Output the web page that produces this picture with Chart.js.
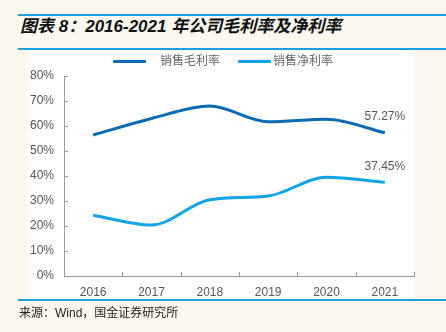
<!DOCTYPE html>
<html>
<head>
<meta charset="utf-8">
<script src="https://cdn.jsdelivr.net/npm/chart.js@4.4.0/dist/chart.umd.min.js"></script>
<style>
  html, body { margin: 0; padding: 0; }
  body { width: 446px; height: 332px; background: #fcf8ee; position: relative; overflow: hidden;
         font-family: "Liberation Sans", "Noto Sans CJK SC", sans-serif; }
  .rule { position: absolute; left: 18px; right: 0; height: 2px; background: #1aa1e4; }
  #title { position: absolute; left: 20px; top: 12px; font-size: 17px; font-weight: bold; font-style: italic;
           color: #111; white-space: nowrap; }
  #panel { position: absolute; left: 27px; top: 50px; width: 388px; height: 250px; background: #fff; }
  #source { position: absolute; left: 19px; top: 303px; font-size: 12px; color: #222; white-space: nowrap; }
  .sw { position: absolute; top: 60px; width: 33px; height: 3px; border-radius: 1px; }
  .lg { position: absolute; top: 53px; font-size: 12px; color: #666; white-space: nowrap; line-height: 16px; }
</style>
</head>
<body>
<div class="rule" style="top:14px"></div>
<div id="title">图表 8：2016-2021 年公司毛利率及净利率</div>
<div class="rule" style="top:48px"></div>
<div id="panel"><canvas id="margenes" width="388" height="250"></canvas></div>
<div class="sw" id="sw0" style="left:113px"></div><div class="lg" id="lg0" style="left:160px"></div>
<div class="sw" id="sw1" style="left:238px"></div><div class="lg" id="lg1" style="left:273px"></div>
<div class="rule" style="top:299px"></div>
<div id="source">来源：Wind，国金证券研究所</div>

<script>
var anios = ['2016', '2017', '2018', '2019', '2020', '2021'];
var margenBruto = [56.4, 63.0, 68.0, 61.7, 62.7, 57.27];
var margenNeto = [24.3, 20.4, 30.5, 32.0, 39.5, 37.45];
var nombres = ['销售毛利率', '销售净利率'];
var colores = ['#0c6ab5', '#10a3e8'];

// leyenda en html
for (var k = 0; k < nombres.length; k++) {
  document.getElementById('sw' + k).style.background = colores[k];
  document.getElementById('lg' + k).textContent = nombres[k];
}

// ticks hacia dentro + etiqueta del ultimo valor
var decoracion = {
  id: 'decoracion',
  afterDatasetsDraw: function(chart) {
    var ctx = chart.ctx, x = chart.scales.x, y = chart.scales.y;
    ctx.save();
    ctx.strokeStyle = '#9a9a9a';
    ctx.lineWidth = 1;
    ctx.beginPath();
    for (var v = 10; v <= 80; v += 10) {
      var py = Math.round(y.getPixelForValue(v)) + 0.5;
      ctx.moveTo(x.left, py); ctx.lineTo(x.left + 4, py);
    }
    for (var i = 1; i <= anios.length; i++) {
      var px = Math.round(x.left + (x.right - x.left) * i / anios.length) + 0.5;
      ctx.moveTo(px, y.bottom); ctx.lineTo(px, y.bottom - 4);
    }
    ctx.stroke();
    ctx.fillStyle = '#555';
    ctx.font = '12px "Liberation Sans", sans-serif';
    ctx.textAlign = 'center';
    ctx.textBaseline = 'middle';
    chart.data.datasets.forEach(function(ds, k) {
      var pts = chart.getDatasetMeta(k).data;
      var p = pts[pts.length - 1];
      ctx.fillText(ds.data[ds.data.length - 1].toFixed(2) + '%', p.x, p.y - 16);
    });
    ctx.restore();
  }
};

new Chart(document.getElementById('margenes'), {
  type: 'line',
  data: {
    labels: anios,
    datasets: [{
      label: nombres[0],
      data: margenBruto,
      borderColor: colores[0],
      backgroundColor: colores[0],
      borderWidth: 3,
      pointRadius: 0,
      tension: 0.4,
      cubicInterpolationMode: 'monotone'
    }, {
      label: nombres[1],
      data: margenNeto,
      borderColor: colores[1],
      backgroundColor: colores[1],
      borderWidth: 3,
      pointRadius: 0,
      tension: 0.4,
      cubicInterpolationMode: 'monotone'
    }]
  },
  options: {
    responsive: false,
    animation: false,
    layout: { padding: { left: 0, right: 1, top: 26, bottom: 0 } },
    plugins: {
      legend: { display: false },
      tooltip: { enabled: false }
    },
    scales: {
      x: {
        offset: true,
        afterFit: function(s) { s.height = 24; },
        grid: { display: false, drawTicks: false, tickLength: 0 },
        border: { display: true, color: '#9a9a9a', width: 1 },
        ticks: { color: '#555', padding: 9, font: { size: 12, family: '"Liberation Sans", sans-serif' } }
      },
      y: {
        min: 0,
        max: 80,
        afterFit: function(s) { s.width = 37; },
        grid: { display: false, drawTicks: false, tickLength: 0 },
        border: { display: true, color: '#9a9a9a', width: 1 },
        ticks: {
          stepSize: 10,
          color: '#555',
          padding: 10,
          font: { size: 12, family: '"Liberation Sans", sans-serif' },
          callback: function(v) { return v + '%'; }
        }
      }
    }
  },
  plugins: [decoracion]
});
</script>
</body>
</html>
